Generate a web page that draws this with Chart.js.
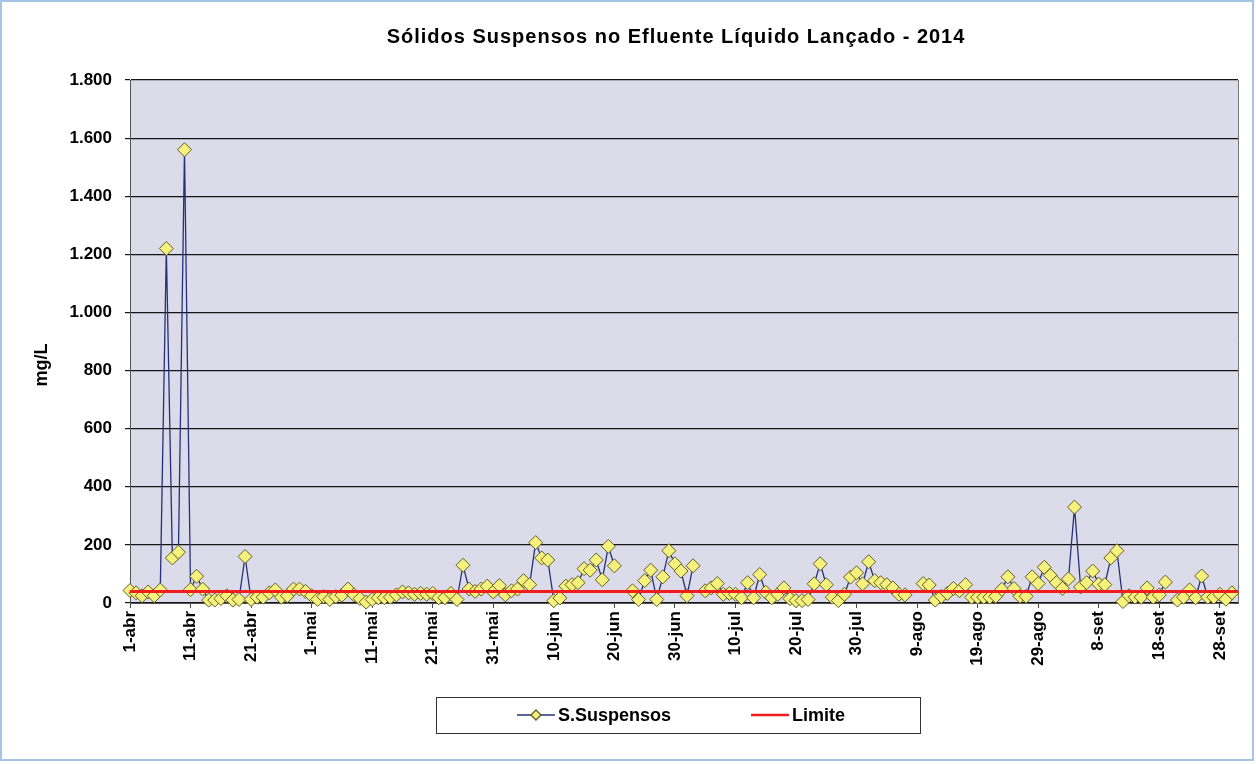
<!DOCTYPE html>
<html lang="pt">
<head>
<meta charset="utf-8">
<title>Sólidos Suspensos no Efluente Líquido Lançado - 2014</title>
<script src="https://cdn.jsdelivr.net/npm/chart.js@4.4.1/dist/chart.umd.min.js"></script>
<style>
  html, body { margin: 0; padding: 0; background: #fff; }
  #wrap { width: 1256px; height: 764px; }
</style>
</head>
<body>
<div id="wrap"><canvas id="chart" width="1256" height="764"></canvas></div>
<script>
const chartTitle = "Sólidos Suspensos no Efluente Líquido Lançado - 2014";
const yTitle = "mg/L";

// one value per day from 1-abr (index 0) to 30-set (index 182); null = sem amostra
const ssValues = [
  43, 35, 25, 38, 25, 45, 1220, 155, 175, 1560,
  46, 92, 48, 10, 10, 15, 25, 10, 12, 160,
  12, 20, 20, 35, 45, 20, 25, 48, 48, 40,
  25, 12, 22, 12, 22, 27, 48, 28, 15, 3,
  12, 18, 18, 20, 28, 38, 35, 30, 33, 30,
  33, 18, 18, 33, 12, 130, 48, 40, 48, 58,
  38, 60, 28, 42, 48, 77, 63, 208, 155, 148,
  8, 17, 58, 63, 70, 118, 113, 148, 80, 195,
  128, null, null, 42, 12, 77, 113, 12, 90, 180,
  135, 110, 25, 128, null, 42, 52, 67, 30, 33,
  30, 18, 70, 18, 98, 37, 18, 30, 52, 15,
  8, 8, 12, 66, 135, 63, 20, 8, 30, 89,
  104, 66, 142, 77, 70, 63, 52, 30, 28, null,
  null, 67, 62, 10, 23, 33, 50, 42, 63, 20,
  20, 20, 20, 23, 47, 90, 50, 23, 23, 90,
  67, 123, 95, 70, 50, 83, 330, 55, 70, 110,
  65, 63, 155, 180, 5, 25, 20, 20, 52, 20,
  28, 72, null, 10, 20, 45, 18, 93, 20, 20,
  30, 13, 35
];

const limiteValue = 40;
const limiteDays = [0, 183];

const tickDays = [0, 10, 20, 30, 40, 50, 60, 70, 80, 90, 100, 110, 120, 130, 140, 150, 160, 170, 180];
const tickLabels = ["1-abr", "11-abr", "21-abr", "1-mai", "11-mai", "21-mai", "31-mai", "10-jun", "20-jun",
  "30-jun", "10-jul", "20-jul", "30-jul", "9-ago", "19-ago", "29-ago", "8-set", "18-set", "28-set"];

const seriesLabels = ["S.Suspensos", "Limite"];
const FONT = '"Liberation Sans", Arial, sans-serif';

const fmt = (v) => String(v).replace(/\B(?=(\d{3})+(?!\d))/g, ".");

const decor = {
  id: "decor",
  beforeDraw(c) {
    const { ctx, chartArea: a } = c;
    ctx.save();
    ctx.fillStyle = "#fff";
    ctx.fillRect(0, 0, c.width, c.height);
    ctx.fillStyle = "#dcdbe9";
    ctx.fillRect(a.left, a.top, a.width, a.height);
    ctx.restore();
  },
  beforeDatasetsDraw(c) {
    const { ctx, chartArea: a } = c;
    ctx.save();
    ctx.strokeStyle = "#777";
    ctx.lineWidth = 1;
    ctx.beginPath();
    ctx.moveTo(a.right + 0.5, a.top);
    ctx.lineTo(a.right + 0.5, a.bottom);
    ctx.stroke();
    ctx.restore();
  },
  afterDraw(c) {
    const { ctx, chartArea: a } = c;
    const cx = (a.left + a.right) / 2;
    ctx.save();

    // outer frame
    ctx.strokeStyle = "#a6c4e4";
    ctx.lineWidth = 2;
    ctx.strokeRect(1, 1, c.width - 4, c.height - 5);

    // title
    ctx.fillStyle = "#000";
    ctx.font = "bold 20px " + FONT;
    ctx.letterSpacing = "1px";
    ctx.textAlign = "center";
    ctx.textBaseline = "middle";
    ctx.fillText(chartTitle, cx - 8, 37);
    ctx.letterSpacing = "0px";

    // y axis title
    ctx.font = "bold 18px " + FONT;
    ctx.save();
    ctx.translate(42, 365);
    ctx.rotate(-Math.PI / 2);
    ctx.fillText(yTitle, 0, 0);
    ctx.restore();

    // legend
    const bx = cx - 6 - 242, by = 697, bw = 484, bh = 36;
    ctx.fillStyle = "#fff";
    ctx.fillRect(bx, by, bw, bh);
    ctx.strokeStyle = "#333";
    ctx.lineWidth = 1;
    ctx.strokeRect(bx + 0.5, by + 0.5, bw, bh);

    ctx.font = "bold 18px " + FONT;
    ctx.textAlign = "left";
    const sym = 38, gap = 3, itemGap = 80;
    const w1 = ctx.measureText(seriesLabels[0]).width;
    const w2 = ctx.measureText(seriesLabels[1]).width;
    const total = sym + gap + w1 + itemGap + sym + gap + w2;
    let x = cx - 3 - total / 2;
    const ly = by + bh / 2;

    const ds0 = c.data.datasets[0];
    ctx.strokeStyle = ds0.borderColor;
    ctx.lineWidth = 1.3;
    ctx.beginPath();
    ctx.moveTo(x, ly);
    ctx.lineTo(x + sym, ly);
    ctx.stroke();
    ctx.fillStyle = ds0.pointBackgroundColor;
    ctx.strokeStyle = ds0.pointBorderColor;
    ctx.beginPath();
    ctx.moveTo(x + sym / 2, ly - 5);
    ctx.lineTo(x + sym / 2 + 5, ly);
    ctx.lineTo(x + sym / 2, ly + 5);
    ctx.lineTo(x + sym / 2 - 5, ly);
    ctx.closePath();
    ctx.fill();
    ctx.stroke();
    x += sym + gap;
    ctx.fillStyle = "#000";
    ctx.fillText(seriesLabels[0], x, ly + 1);
    x += w1 + itemGap;

    const ds1 = c.data.datasets[1];
    ctx.strokeStyle = ds1.borderColor;
    ctx.lineWidth = 2.5;
    ctx.beginPath();
    ctx.moveTo(x, ly);
    ctx.lineTo(x + sym, ly);
    ctx.stroke();
    x += sym + gap;
    ctx.fillStyle = "#000";
    ctx.fillText(seriesLabels[1], x, ly + 1);

    ctx.restore();
  }
};

new Chart(document.getElementById("chart"), {
  type: "line",
  data: {
    datasets: [
      {
        label: seriesLabels[0],
        data: ssValues.map((v, i) => ({ x: i, y: v })),
        borderColor: "#25307c",
        borderWidth: 1.3,
        pointStyle: "rectRot",
        pointRadius: 7,
        pointBackgroundColor: "#f6f07c",
        pointBorderColor: "#5e5e28",
        pointBorderWidth: 1,
        spanGaps: false,
        tension: 0,
        clip: false,
        order: 2
      },
      {
        label: seriesLabels[1],
        data: limiteDays.map((d) => ({ x: d, y: limiteValue })),
        borderColor: "#f21c1c",
        borderWidth: 3,
        pointRadius: 0,
        tension: 0,
        order: 1
      }
    ]
  },
  options: {
    responsive: false,
    animation: false,
    layout: { padding: { left: 0, right: 18, top: 80, bottom: 51 } },
    plugins: {
      legend: { display: false },
      title: { display: false },
      tooltip: { enabled: false }
    },
    scales: {
      x: {
        type: "linear",
        min: 0,
        max: 183,
        afterBuildTicks: (s) => { s.ticks = tickDays.map((v) => ({ value: v })); },
        afterFit: (s) => { s.height = 110; },
        ticks: {
          autoSkip: false,
          maxRotation: 90,
          minRotation: 90,
          padding: 3,
          color: "#000",
          font: { family: FONT, size: 17, weight: "bold" },
          callback: (v, i) => tickLabels[i]
        },
        grid: { drawOnChartArea: false, drawTicks: true, tickLength: 5, color: "#444" },
        border: { display: true, color: "#555", width: 1 }
      },
      y: {
        min: 0,
        max: 1800,
        afterFit: (s) => { s.width = 130; },
        ticks: {
          stepSize: 200,
          padding: 13,
          color: "#000",
          font: { family: FONT, size: 17, weight: "bold" },
          callback: (v) => fmt(v)
        },
        grid: { color: "#151515", lineWidth: 1.2, drawTicks: true, tickLength: 5 },
        border: { display: true, color: "#555", width: 1 }
      }
    }
  },
  plugins: [decor]
});
</script>
</body>
</html>
